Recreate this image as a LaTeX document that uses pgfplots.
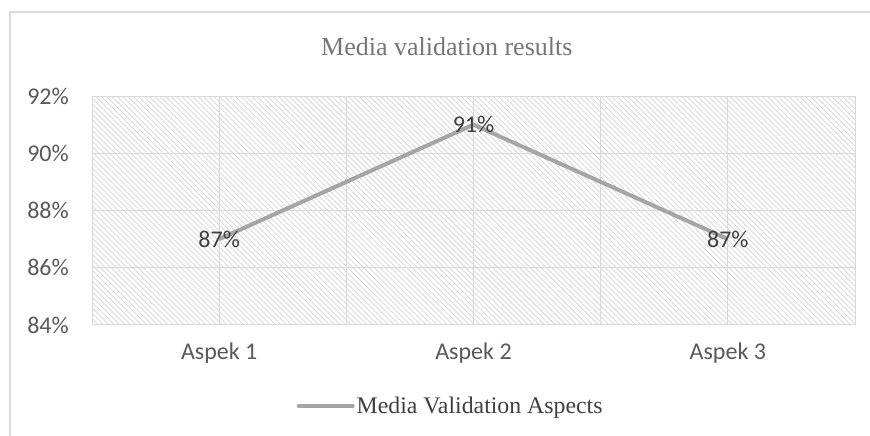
\documentclass[border=0pt]{standalone}
\usepackage{pgfplots}
\pgfplotsset{compat=1.18}
\usetikzlibrary{patterns.meta}
\usepackage{fontspec}
\setmainfont{Liberation Serif}
\newfontfamily\calibri{Carlito}
\definecolor{gridc}{RGB}{217,217,217}
\definecolor{linec}{RGB}{165,165,165}
\definecolor{tickc}{RGB}{89,89,89}
\definecolor{labc}{RGB}{64,64,64}
\definecolor{titc}{RGB}{118,118,118}
\definecolor{hatc}{RGB}{218,218,218}
\begin{document}
\begin{tikzpicture}[x=1pt,y=1pt]
\useasboundingbox (0,0) rectangle (870,436);
\draw[gridc, line width=1.5pt] (10,-10) -- (10,424) -- (880,424);
\begin{axis}[
  at={(92pt,111pt)}, anchor=south west,
  scale only axis, width=763pt, height=229pt,
  xmin=-0.5, xmax=2.5, ymin=84, ymax=92,
  xtick={0,1,2}, xticklabels={Aspek 1,Aspek 2,Aspek 3},
  minor xtick={-0.5,0.5,1.5,2.5},
  ytick={84,86,88,90,92}, yticklabels={84\%,86\%,88\%,90\%,92\%},
  xmajorgrids, xminorgrids, ymajorgrids,
  grid style={gridc, line width=1pt},
  minor grid style={gridc, line width=1pt},
  major tick length=0pt, minor tick length=0pt,
  axis line style={gridc, line width=1pt},
  axis background/.style={pattern={Lines[angle=-45,distance=3.8pt,line width=0.9pt]}, pattern color=hatc},
  ticklabel style={font=\calibri\fontsize{24}{24}\selectfont, text=tickc, inner sep=0pt},
  yticklabel style={anchor=east, xshift=-23pt},
  xticklabel style={anchor=north, yshift=-18pt},
  title={Media validation results},
  title style={at={(0.465,1.188)}, anchor=center, font=\fontsize{26}{26}\selectfont, text=titc},
  legend style={at={(0.47,-0.354)}, anchor=center, draw=none, fill=none,
    font=\fontsize{23.8}{24}\selectfont, text=labc},
  legend image code/.code={\draw[line width=4pt, line cap=round] (0pt,0pt) -- (54pt,0pt);},
  /pgf/number format/assume math mode=true,
  nodes near coords={\pgfmathprintnumber[assume math mode=true]{\pgfplotspointmeta}\%},
  point meta=y,
  every node near coord/.append style={anchor=center, font=\calibri\fontsize{24}{24}\selectfont, text=labc},
]
\addplot[linec, line width=4pt, mark=none] coordinates {(0,87) (1,91) (2,87)};
\addlegendentry{Media Validation Aspects}
\end{axis}
\end{tikzpicture}
\end{document}
